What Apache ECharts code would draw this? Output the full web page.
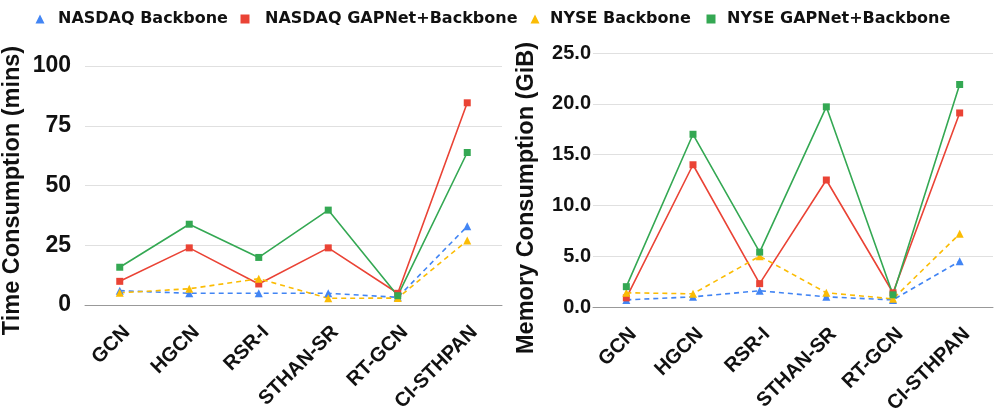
<!DOCTYPE html>
<html>
<head>
<meta charset="utf-8">
<script src="https://cdn.jsdelivr.net/npm/echarts@6/dist/echarts.min.js"></script>
<style>
html,body{margin:0;padding:0;background:#fff;}
#c{width:997px;height:418px;}
</style>
</head>
<body>
<div id="c"></div>
<script>
var categories = ['GCN', 'HGCN', 'RSR-I', 'STHAN-SR', 'RT-GCN', 'CI-STHPAN'];
var seriesNames = ['NASDAQ Backbone', 'NASDAQ GAPNet+Backbone', 'NYSE Backbone', 'NYSE GAPNet+Backbone'];

var timeNasdaqBackbone = [6.0, 4.9, 4.9, 4.9, 3.2, 32.9];
var timeNasdaqGapnet   = [9.9, 23.9, 8.8, 23.9, 4.9, 84.6];
var timeNyseBackbone   = [5.1, 6.8, 11.0, 2.8, 2.9, 27.0];
var timeNyseGapnet     = [15.8, 33.8, 19.9, 39.7, 3.9, 63.8];

var memNasdaqBackbone = [0.7, 1.0, 1.6, 1.0, 0.7, 4.5];
var memNasdaqGapnet   = [0.9, 14.0, 2.3, 12.5, 1.4, 19.1];
var memNyseBackbone   = [1.4, 1.3, 5.0, 1.4, 0.8, 7.2];
var memNyseGapnet     = [2.0, 17.0, 5.4, 19.7, 1.2, 21.9];

var timeTicks = [0, 25, 50, 75, 100];
var memTicks = [0, 5, 10, 15, 20, 25];

var colors = ['#4285F4', '#EA4335', '#FBBC04', '#34A853'];
var symbols = ['triangle', 'rect', 'triangle', 'rect'];
var dashed = [true, false, true, false];
var FONT = '"Liberation Sans", Arial, sans-serif';
var LEGEND_FONT = '"DejaVu Sans", Verdana, sans-serif';

function mk(i, data, axisIdx) {
  return {
    name: seriesNames[i],
    type: 'line',
    xAxisIndex: axisIdx,
    yAxisIndex: axisIdx,
    data: data,
    symbol: symbols[i],
    symbolSize: symbols[i] === 'rect' ? 7 : 8,
    showAllSymbol: true,
    animation: false,
    lineStyle: { color: colors[i], width: 1.6, type: dashed[i] ? [5, 4] : 'solid' },
    itemStyle: { color: colors[i] }
  };
}

var legendLeft = [30.5, 235.5, 525.5, 701.5];
var legendPad = [8.5, 10.5, 5.5, 6.5];

var chart = echarts.init(document.getElementById('c'), null, { renderer: 'canvas' });
var axisLabelX = { rotate: 45, fontSize: 20, fontWeight: 'bold', color: '#111', fontFamily: FONT,
  margin: 17, align: 'right', verticalAlign: 'top', interval: 0 };

chart.setOption({
  backgroundColor: '#ffffff',
  animation: false,
  legend: seriesNames.map(function (n, i) {
    return {
      top: 6,
      left: legendLeft[i],
      itemWidth: 9,
      itemHeight: 9,
      textStyle: { fontSize: 16, fontWeight: 'bold', color: '#111', fontFamily: LEGEND_FONT,
        padding: [0, 0, 0, legendPad[i]] },
      data: [{ name: n, icon: symbols[i] }]
    };
  }),
  grid: [
    { left: 84, right: 495, top: 66, bottom: 113 },
    { left: 593, right: 4, top: 53, bottom: 111 }
  ],
  xAxis: [0, 1].map(function (g) {
    return {
      type: 'category', gridIndex: g, data: categories, boundaryGap: true,
      axisLine: { lineStyle: { color: '#999', width: 1 } },
      axisTick: { show: false },
      axisLabel: axisLabelX
    };
  }),
  yAxis: [
    {
      type: 'value', gridIndex: 0, min: timeTicks[0], max: timeTicks[timeTicks.length - 1], interval: 25,
      name: 'Time Consumption (mins)', nameLocation: 'middle', nameGap: 60,
      nameTextStyle: { fontSize: 23.5, fontWeight: 'bold', color: '#111', fontFamily: FONT, padding: [0, 10, 0, 0] },
      axisLine: { show: false }, axisTick: { show: false },
      axisLabel: { fontSize: 23, fontWeight: 'bold', color: '#111', fontFamily: FONT, margin: 14 },
      splitLine: { lineStyle: { color: '#e0e0e0', width: 1 } }
    },
    {
      type: 'value', gridIndex: 1, min: memTicks[0], max: memTicks[memTicks.length - 1], interval: 5,
      name: 'Memory Consumption (GiB)', nameLocation: 'middle', nameGap: 54,
      nameTextStyle: { fontSize: 23.5, fontWeight: 'bold', color: '#111', fontFamily: FONT, padding: [0, 36, 0, 0] },
      axisLine: { show: false }, axisTick: { show: false },
      axisLabel: { fontSize: 20, fontWeight: 'bold', color: '#111', fontFamily: FONT, margin: 2,
        formatter: function (v) { return v.toFixed(1); } },
      splitLine: { lineStyle: { color: '#e0e0e0', width: 1 } }
    }
  ],
  series: [
    mk(0, timeNasdaqBackbone, 0),
    mk(1, timeNasdaqGapnet, 0),
    mk(2, timeNyseBackbone, 0),
    mk(3, timeNyseGapnet, 0),
    mk(0, memNasdaqBackbone, 1),
    mk(1, memNasdaqGapnet, 1),
    mk(2, memNyseBackbone, 1),
    mk(3, memNyseGapnet, 1)
  ]
});
</script>
</body>
</html>
